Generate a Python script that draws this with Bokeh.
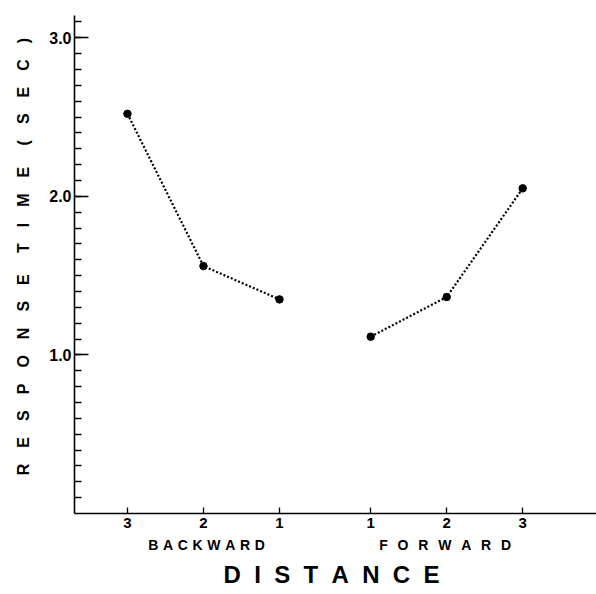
from bokeh.plotting import figure
from bokeh.models import FixedTicker, Range1d, LinearAxis
from bokeh.embed import file_html
from bokeh.resources import INLINE

# Data
backward_labels = ["3", "2", "1"]
forward_labels = ["1", "2", "3"]
backward_pos = [1.0, 2.0, 3.0]
forward_pos = [4.2, 5.2, 6.2]
backward_rt = [2.52, 1.56, 1.35]
forward_rt = [1.115, 1.365, 2.05]
y_major = [1.0, 2.0, 3.0]
group_pos = [2.04, 5.18]
group_names = ["BACKWARD", "FORWARD"]
x_title = "DISTANCE"
y_title_words = ["RESPONSE", "TIME", "(SEC)"]

FONT = "Liberation Sans"
EN, EM, NB, THIRD, THIN = "\u2002", "\u2003", "\u00a0", "\u2004", "\u2009"

def spaced(word, sep):
    return sep.join(list(word))

p = figure(width=596, height=594, output_backend="svg", toolbar_location=None,
           x_range=Range1d(0.303, 7.171), y_range=Range1d(0, 3.14),
           min_border_left=74, min_border_right=0, min_border_top=15, min_border_bottom=81)
p.outline_line_color = None
p.xgrid.visible = False
p.ygrid.visible = False

for xs, ys in [(backward_pos, backward_rt), (forward_pos, forward_rt)]:
    p.line(xs, ys, line_color="black", line_width=2.2, line_dash="2 2")
    p.scatter(xs, ys, size=7.5, fill_color="black", line_color="black")

# x axis (distance ticks)
xa = p.xaxis[0]
xa.ticker = FixedTicker(ticks=backward_pos + forward_pos, minor_ticks=[])
xa.major_label_overrides = {**{p_: l for p_, l in zip(backward_pos, backward_labels)},
                            **{p_: l for p_, l in zip(forward_pos, forward_labels)}}
xa.major_tick_in = 6
xa.major_tick_out = 0
xa.minor_tick_in = 0
xa.minor_tick_out = 0
xa.axis_line_width = 1.6
xa.major_tick_line_width = 1.3
xa.major_label_standoff = 4
xa.major_label_text_font = FONT
xa.major_label_text_font_style = "bold"
xa.major_label_text_font_size = "15px"
xa.major_label_text_color = "black"

# second x axis: group names + title
ga = LinearAxis(ticker=FixedTicker(ticks=group_pos, minor_ticks=[]),
                major_label_overrides={group_pos[0]: spaced(group_names[0], THIRD),
                                       group_pos[1]: spaced(group_names[1], EN + THIN)},
                axis_line_color=None, major_tick_line_color=None, minor_tick_line_color=None,
                major_tick_in=0, major_tick_out=0, minor_tick_in=0, minor_tick_out=0,
                major_label_standoff=6,
                major_label_text_font=FONT, major_label_text_font_style="bold",
                major_label_text_font_size="14px", major_label_text_color="black",
                axis_label=spaced(x_title, NB + NB) + THIRD,
                axis_label_standoff=5,
                axis_label_text_font=FONT, axis_label_text_font_style="bold",
                axis_label_text_font_size="24px", axis_label_text_color="black")
p.add_layout(ga, "below")

# y axis
ya = p.yaxis[0]
ya.ticker = FixedTicker(ticks=y_major, minor_ticks=[i / 10 for i in range(1, 32)])
ya.major_label_overrides = {v: f"{v:.1f}" for v in y_major}
ya.major_tick_in = 14
ya.major_tick_out = 0
ya.minor_tick_in = 7
ya.minor_tick_out = 0
ya.axis_line_width = 1.6
ya.major_tick_line_width = 1.3
ya.minor_tick_line_width = 1.3
ya.major_label_standoff = 3
ya.major_label_text_font = FONT
ya.major_label_text_font_style = "bold"
ya.major_label_text_font_size = "16px"
ya.major_label_text_color = "black"
ya.axis_label = EM + (EM + THIRD).join(spaced(w, EM) for w in y_title_words)
ya.axis_label_standoff = 14
ya.axis_label_text_font = FONT
ya.axis_label_text_font_style = "bold"
ya.axis_label_text_font_size = "16px"
ya.axis_label_text_color = "black"

open("out.html", "w").write(file_html(p, INLINE))
